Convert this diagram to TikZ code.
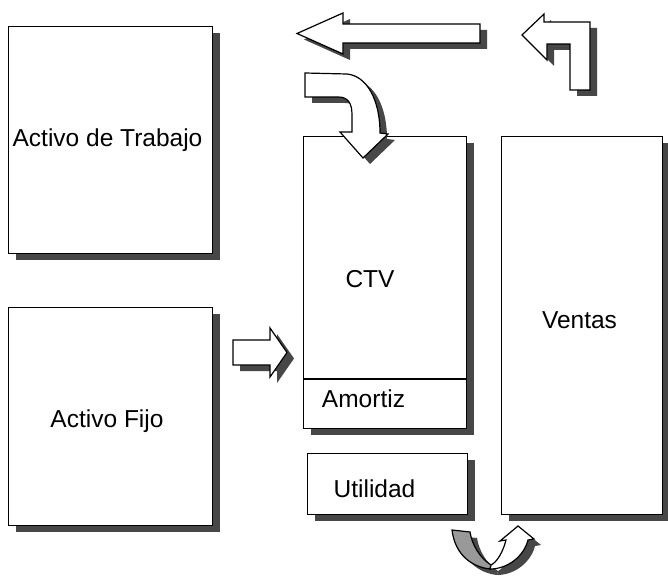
\documentclass[tikz,border=0pt]{standalone}
\usepackage{fontspec}
\setmainfont{Liberation Sans}
\usetikzlibrary{shadows}
\begin{document}
\begin{tikzpicture}[x=1pt, y=1pt, line join=miter, line width=1.2pt,
		font=\fontsize{24.5}{29}\selectfont,
		sombra/.style={drop shadow={shadow xshift=7pt, shadow yshift=-6pt, fill=black!72, opacity=1}},
		caja/.style={draw, fill=white, sombra, anchor=north west, inner sep=0pt},
		flecha/.style={draw, fill=white, sombra},
		txt/.style={anchor=base, inner sep=0pt}]
				\useasboundingbox[fill=white] (0,0) rectangle (668,-575);
				\node[caja, minimum width=204, minimum height=227] (trabajo) at (8,-26) {};
				\node[caja, minimum width=204, minimum height=218] (fijo) at (8,-307) {};
				\node[caja, minimum width=163, minimum height=292] (ctv) at (303,-136) {};
				\node[caja, minimum width=160, minimum height=61] (utilidad) at (307,-453) {};
				\node[caja, minimum width=161, minimum height=378] (ventas) at (501,-136) {};
				\draw (ctv.west |- 0,-379) coordinate (a1) -- (ctv.east |- a1) coordinate (a2);
				\node[txt] at (107.5,-146.5) {Activo de Trabajo};
				\node[txt] at (107,-427) {Activo Fijo};
				\node[txt] at (370,-287) {CTV};
				\node[txt] at (363.5,-407) {Amortiz};
				\node[txt] at (374.5,-497) {Utilidad};
				\node[txt] at (579.5,-328) {Ventas};
				\draw[flecha] (480,-24)--(343,-24)--(343,-13)--(297,-33.5)--(343,-54)--(343,-43)--(480,-43)--cycle;
				\draw[flecha] (590,-22)--(544,-22)--(544,-14)--(522,-35)--(547,-60)--(547,-44)--(570,-44)--(570,-90)--(590,-90)--cycle;
				\draw[flecha] (305,-73)--(347,-74) .. controls (367,-76) and (380,-100) .. (380,-133)--(388,-134)--(363,-158)--(340,-132)--(352,-132)--(352,-115) .. controls (352,-103) and (348,-97) .. (338,-97)--(305,-97)--cycle;
				\draw[flecha] (233,-340)--(270,-340)--(270,-328)--(287,-352.5)--(270,-377)--(270,-365)--(233,-365)--cycle;
				\draw[flecha, fill=black!40] (452,-530) .. controls (455,-555) and (472,-567) .. (490,-569)--(491,-565) .. controls (480,-558) and (472,-545) .. (470,-532)--cycle;
				\draw[flecha] (490,-569) .. controls (508,-569) and (524,-556) .. (528,-540)--(534,-539)--(518,-526)--(500,-541)--(506,-540) .. controls (503,-552) and (497,-562) .. (491,-565)--cycle;
\end{tikzpicture}
\end{document}
